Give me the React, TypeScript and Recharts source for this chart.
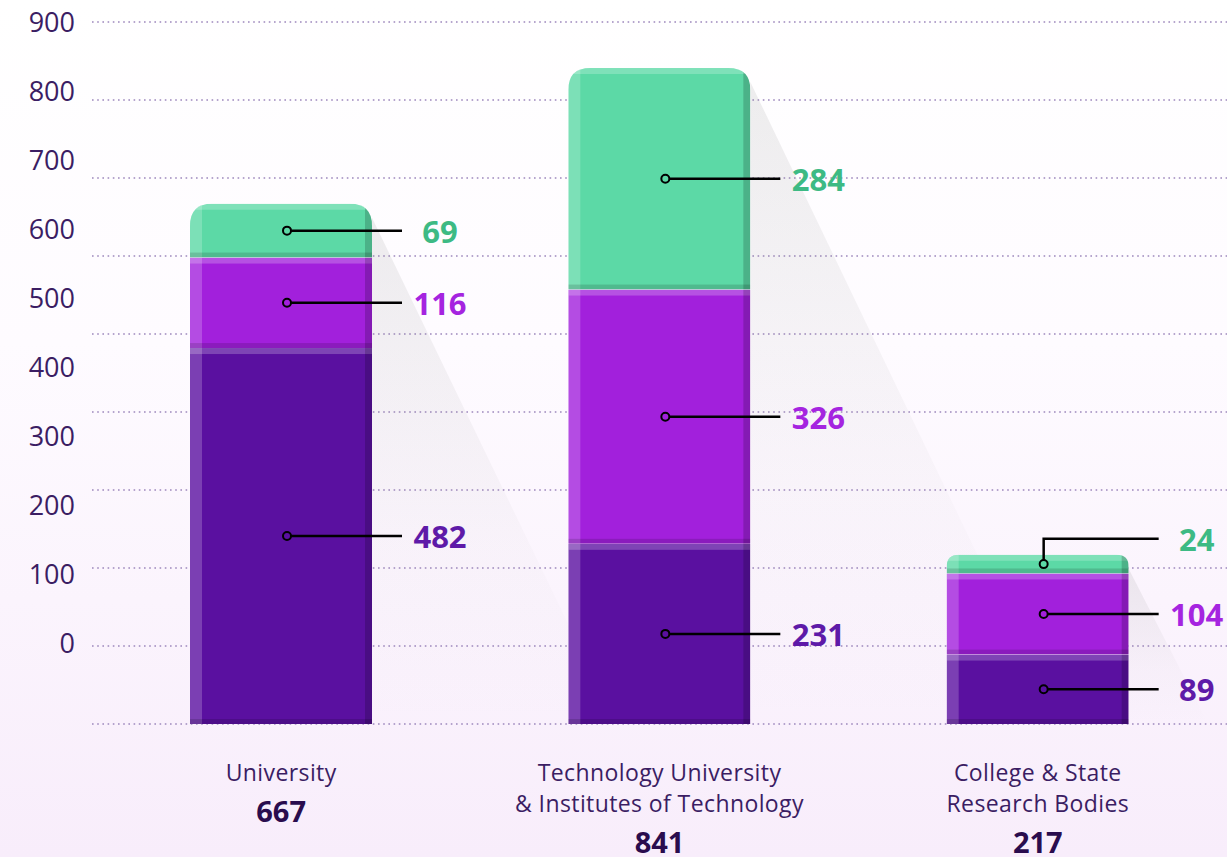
import React from 'react';
import { ComposedChart, Bar, Line, XAxis, YAxis, CartesianGrid, LabelList } from 'recharts';

const categoryLines = [
  ['University'],
  ['Technology University', '& Institutes of Technology'],
  ['College & State', 'Research Bodies'],
];
const coreValues = [482, 231, 89];
const midValues = [116, 326, 104];
const topValues = [69, 284, 24];
const gridTicks = [0, 100, 200, 300, 400, 500, 600, 700, 800, 900];
const labelTicks = [0, 100, 200, 300, 400, 500, 600, 700, 800, 900];

const FONT = '"Open Sans", sans-serif';
const INK = '#3b1d63';

const COLORS = { core: '#5a10a0', mid: '#a220dc', top: '#5cd9a6' };
const TEXT_COLORS = { core: '#5e1aa8', mid: '#a524e0', top: '#3dba84' };

const data = categoryLines.map((lines, i) => ({
  name: lines.join(' '),
  core: coreValues[i],
  mid: midValues[i],
  top: topValues[i],
  total: coreValues[i] + midValues[i] + topValues[i],
}));

function segmentPath(x: number, y: number, w: number, h: number, r: number) {
  if (r <= 0) return `M${x},${y}H${x + w}V${y + h}H${x}Z`;
  return `M${x},${y + h}V${y + r}Q${x},${y} ${x + r},${y}H${x + w - r}Q${x + w},${y} ${x + w},${y + r}V${y + h}Z`;
}

function makeSegment(key: 'core' | 'mid' | 'top') {
  return (props: any) => {
    const { x, y, width: w, height: h, index, payload } = props;
    if (!h || h <= 0) return null;
    const r = key === 'top' ? Math.min(22, h * 0.65) : 0;
    const clipId = `clip-${key}-${index}`;
    const shadowId = `shadow-${index}`;
    let shadow = null;
    if (key === 'core') {
      const base = y + h;
      const unit = h / payload.core;
      const topY = base - payload.total * unit;
      const sh = base - topY;
      shadow = (
        <g>
          <defs>
            <linearGradient id={shadowId} x1="0" y1="0" x2="0" y2="1">
              <stop offset="0%" stopColor="#8a8a8a" stopOpacity={0.15} />
              <stop offset="65%" stopColor="#8a8a8a" stopOpacity={0.03} />
              <stop offset="100%" stopColor="#8a8a8a" stopOpacity={0} />
            </linearGradient>
          </defs>
          <polygon
            points={`${x + w},${topY + 14} ${x + w + 0.47 * sh},${base} ${x + w},${base}`}
            fill={`url(#${shadowId})`}
          />
        </g>
      );
    }
    return (
      <g>
        {shadow}
        <defs>
          <clipPath id={clipId}>
            <path d={segmentPath(x, y, w, h, r)} />
          </clipPath>
        </defs>
        <g clipPath={`url(#${clipId})`}>
          <rect x={x} y={y} width={w} height={h} fill={COLORS[key]} />
          <rect x={x} y={y} width={12} height={h} fill="#ffffff" opacity={0.2} />
          <rect x={x} y={y} width={w} height={6} fill="#ffffff" opacity={0.22} />
          <rect x={x + w - 7} y={y} width={7} height={h} fill="#000000" opacity={0.18} />
          <rect x={x} y={y + h - 5} width={w} height={5} fill="#000000" opacity={0.14} />
        </g>
      </g>
    );
  };
}

function makeLabel(key: 'core' | 'mid' | 'top') {
  return (props: any) => {
    const { x, y, width: w, height: h, value } = props;
    const cx = x + w / 2 + 6;
    const cy = y + h / 2;
    const lineEnd = x + w + 30;
    const small = h < 30;
    const ty = small ? y - 16 : cy;
    return (
      <g>
        {small ? (
          <path d={`M${cx},${cy - 4}V${ty}H${lineEnd}`} fill="none" stroke="#000" strokeWidth={2.5} />
        ) : (
          <line x1={cx + 4} y1={cy} x2={lineEnd} y2={cy} stroke="#000" strokeWidth={2.5} />
        )}
        <circle cx={cx} cy={cy} r={4} fill={COLORS[key]} stroke="#000" strokeWidth={2} />
        <text
          x={lineEnd + 38}
          y={ty}
          textAnchor="middle"
          dominantBaseline="central"
          fill={TEXT_COLORS[key]}
          fontFamily={FONT}
          fontWeight={700}
          fontSize={31}
        >
          {value}
        </text>
      </g>
    );
  };
}

function CategoryTick(props: any) {
  const { x, y, index } = props;
  const lines = categoryLines[index] || [];
  const first = y + 40;
  const totalY = first + (lines.length - 1) * 31 + 38;
  return (
    <g>
      {lines.map((l, i) => (
        <text
          key={i}
          x={x}
          y={first + i * 31}
          textAnchor="middle"
          dominantBaseline="central"
          fill={INK}
          fontFamily={FONT}
          fontSize={23}
          letterSpacing={0.4}
        >
          {l}
        </text>
      ))}
      <text
        x={x}
        y={totalY}
        textAnchor="middle"
        dominantBaseline="central"
        fill="#2a0c4e"
        fontFamily={FONT}
        fontWeight={700}
        fontSize={29}
      >
        {data[index]?.total}
      </text>
    </g>
  );
}

export default function App() {
  return (
    <div
      style={{
        position: 'absolute',
        top: 0,
        left: 0,
        width: 1227,
        height: 857,
        overflow: 'hidden',
        background: 'linear-gradient(to bottom, #ffffff 0%, #fefbff 40%, #f8edfb 100%)',
      }}
    >
      <ComposedChart width={1227} height={857} data={data} margin={{ top: 22, right: 0, bottom: 0, left: 0 }}>
        <CartesianGrid
          yAxisId="main"
          vertical={false}
          stroke="#9d88bd"
          strokeWidth={1.6}
          strokeDasharray="1.6 3.6"
        />
        <XAxis
          dataKey="name"
          height={133}
          axisLine={false}
          tickLine={false}
          interval={0}
          tick={<CategoryTick />}
        />
        <YAxis yAxisId="main" hide domain={[0, 900]} ticks={gridTicks} />
        <YAxis
          yAxisId="labels"
          width={92}
          domain={[-117, 900]}
          ticks={labelTicks}
          allowDataOverflow
          axisLine={false}
          tickLine={false}
          tickSize={0}
          tickMargin={17}
          tick={{ fill: INK, fontSize: 27, fontFamily: FONT }}
        />
        <Bar yAxisId="main" dataKey="core" stackId="a" barSize={182} isAnimationActive={false} shape={makeSegment('core')}>
          <LabelList dataKey="core" content={makeLabel('core')} />
        </Bar>
        <Bar yAxisId="main" dataKey="mid" stackId="a" barSize={182} isAnimationActive={false} shape={makeSegment('mid')}>
          <LabelList dataKey="mid" content={makeLabel('mid')} />
        </Bar>
        <Bar yAxisId="main" dataKey="top" stackId="a" barSize={182} isAnimationActive={false} shape={makeSegment('top')}>
          <LabelList dataKey="top" content={makeLabel('top')} />
        </Bar>
        <Line
          yAxisId="labels"
          dataKey="total"
          stroke="none"
          dot={false}
          activeDot={false}
          legendType="none"
          isAnimationActive={false}
        />
      </ComposedChart>
    </div>
  );
}
